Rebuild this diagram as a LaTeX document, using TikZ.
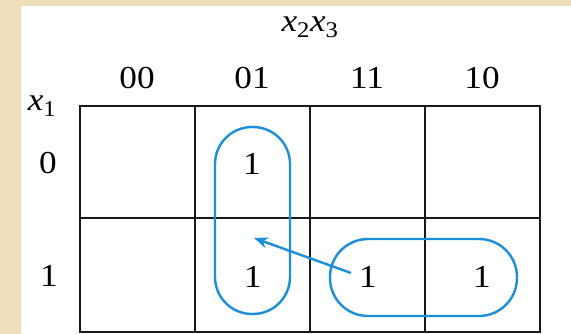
\documentclass[tikz,border=0pt]{standalone}
\usepackage{fontspec}
\setmainfont{Liberation Serif}
\usetikzlibrary{arrows.meta}
\definecolor{beige}{RGB}{238,222,186}
\definecolor{loopblue}{RGB}{28,142,218}
\newcommand\wide[1]{\scalebox{1.1}[1]{#1}}
\tikzset{
  lbl/.style={inner sep=0pt, font=\fontsize{32}{36}\selectfont},
  gridline/.style={line width=2.8pt, black!90},
  kloop/.style={line width=2.4pt, loopblue},
}
\begin{document}
\begin{tikzpicture}[x=1pt,y=-1pt]
\useasboundingbox (0,0) rectangle (571,334);
\fill[beige] (0,0) rectangle (571,334);
\fill[white] (21,6) rectangle (571,334);
% grid
\foreach \xx in {80,195,310,425,540} \draw[gridline] (\xx,106) -- (\xx,332);
\foreach \yy in {106,218,332} \draw[gridline] (78.6,\yy) -- (541.4,\yy);
% headers
\node[lbl] (vars) at (310,27) {\wide{\textit{x}\textsubscript{2}\textit{x}\textsubscript{3}}};
\node[lbl] (x1) at (42,106) {\wide{\textit{x}\textsubscript{1}}};
\node[lbl] (c00) at (137,78) {\wide{00}};
\node[lbl] (c01) at (252,78) {\wide{01}};
\node[lbl] (c11) at (367,78) {\wide{11}};
\node[lbl] (c10) at (482,78) {\wide{10}};
\node[lbl] (r0) at (48,163) {\wide{0}};
\node[lbl] (r1) at (49,276) {\wide{1}};
% ones
\node[lbl] (m1) at (252,164) {\wide{1}};
\node[lbl] (m5) at (253,277) {\wide{1}};
\node[lbl] (m7) at (368,277) {\wide{1}};
\node[lbl] (m6) at (482,277) {\wide{1}};
% loops
\draw[kloop, rounded corners=37pt] (215,127) rectangle (290,314);
\draw[kloop, rounded corners=38pt] (330,239) rectangle (517,316);
% arrow
\coordinate (astart) at (351,273);
\coordinate (aend) at (254,238);
\draw[kloop, -{Stealth[length=14pt,width=11pt]}] (astart) -- (aend);
\end{tikzpicture}
\end{document}
